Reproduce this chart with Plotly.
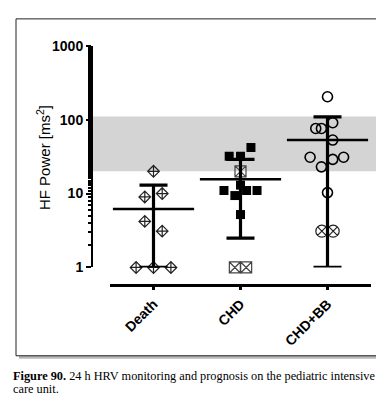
import plotly.graph_objects as go

# ---------------- data ----------------
categories = ["Death", "CHD", "CHD+BB"]

death_values = [20, 9, 10, 4.2, 3.1, 1, 1, 1]
death_jitter = [0, -0.1, 0.1, -0.1, 0.1, -0.2, 0, 0.2]

chd_values = [42, 32, 32, 13, 11, 11, 11, 9.4, 5.2]
chd_jitter = [0.12, -0.13, 0, 0, -0.19, 0.07, 0.19, -0.065, 0]
chd_x_values = [20, 1, 1]
chd_x_jitter = [0, -0.065, 0.065]

bb_values = [204, 76, 76, 91, 53, 31, 29, 31, 23, 10.3]
bb_jitter = [0, -0.135, -0.07, 0.06, 0.06, -0.2, 0.06, 0.185, -0.07, 0]
bb_x_values = [3.1, 3.1]
bb_x_jitter = [-0.065, 0.065]

means = [6.2, 15.6, 53]
upper = [13, 29, 109]
lower = [1, 2.5, 1]

band_low, band_high = 20, 110
y_tick_vals = [1, 10, 100, 1000]
y_tick_text = ["1", "10", "100", "1000"]

# ---------------- layout helpers ----------------
W, H = 384, 398
def px(x):
    return x / W
def py(y):
    return 1 - y / H

FONT = "Arial, Liberation Sans, sans-serif"
SERIF = "Liberation Serif, Times New Roman, serif"

fig = go.Figure()

def pts(group_idx, vals, jit, symbol, size, color, fill, lw):
    fig.add_trace(go.Scatter(
        x=[group_idx + j for j in jit], y=vals, mode="markers",
        marker=dict(symbol=symbol, size=size, color=fill,
                    line=dict(color=color, width=lw)),
        cliponaxis=False, showlegend=False, hoverinfo="y"))

pts(0, death_values, death_jitter, "diamond-cross-open", 9, "#222", "#222", 1.2)
pts(1, chd_values, chd_jitter, "square", 9, "black", "black", 0)
pts(1, chd_x_values, chd_x_jitter, "square-x-open", 11, "#444", "#444", 1.2)
pts(2, bb_values, bb_jitter, "circle-open", 10, "black", "black", 1.6)
pts(2, bb_x_values, bb_x_jitter, "circle-x-open", 12, "#222", "#222", 1.2)

# mean and SD
fig.add_trace(go.Scatter(
    x=[0, 1, 2], y=means, mode="markers",
    marker=dict(symbol="line-ew-open", size=58, color="black",
                line=dict(color="black", width=2.5)),
    error_y=dict(type="data", symmetric=False,
                 array=[u - m for u, m in zip(upper, means)],
                 arrayminus=[m - l for m, l in zip(means, lower)],
                 thickness=3.2, width=14, color="black"),
    cliponaxis=False, showlegend=False, hoverinfo="y"))

shapes = [
    dict(type="rect", xref="paper", yref="paper", x0=px(11), x1=px(382),
         y0=py(357), y1=py(6), fillcolor="#b8b8b8", line=dict(width=0), layer="below"),
    dict(type="rect", xref="paper", yref="paper", x0=px(8), x1=px(379),
         y0=py(354), y1=py(3), fillcolor="white", line=dict(color="#222", width=1), layer="below"),
    dict(type="rect", xref="paper", yref="y", x0=px(85), x1=px(369),
         y0=band_low, y1=band_high, fillcolor="#d4d4d4", line=dict(width=0), layer="below"),
]

annotations = [
    dict(text="HF Power [ms<sup>2</sup>]", textangle=-90, xref="paper", yref="paper",
         x=px(35), y=py(148), xanchor="center", yanchor="middle", showarrow=False,
         font=dict(family=FONT, size=15, color="black")),
    dict(text="<b>Figure 90.</b> 24 h HRV monitoring and prognosis on the pediatric intensive",
         xref="paper", yref="paper", x=px(3), y=py(375), xanchor="left", yanchor="middle",
         showarrow=False, font=dict(family=SERIF, size=12.3, color="black")),
    dict(text="care unit.",
         xref="paper", yref="paper", x=px(3), y=py(389), xanchor="left", yanchor="middle",
         showarrow=False, font=dict(family=SERIF, size=12.3, color="black")),
]

fig.update_layout(
    width=W, height=H,
    margin=dict(l=0, r=0, t=0, b=0),
    paper_bgcolor="white", plot_bgcolor="rgba(0,0,0,0)",
    shapes=shapes, annotations=annotations,
    xaxis=dict(domain=[px(102), px(363)], range=[-0.5, 2.5],
               anchor="free", position=py(280),
               tickvals=[0, 1, 2], ticktext=["<b>%s</b>" % c for c in categories], tickangle=-45,
               tickfont=dict(family=FONT, size=14, color="black"),
               showline=True, linecolor="black", linewidth=2.5,
               ticks="outside", ticklen=4, tickwidth=2.5, tickcolor="black",
               showgrid=False, zeroline=False),
    yaxis=dict(type="log", domain=[py(262), py(31)], range=[0, 3],
               anchor="free", position=px(84),
               tickvals=y_tick_vals, ticktext=["<b>%s</b>" % t for t in y_tick_text],
               tickfont=dict(family=FONT, size=14, color="black"),
               showline=True, linecolor="black", linewidth=2,
               ticks="outside", ticklen=5, tickwidth=2, tickcolor="black",
               minor=dict(ticks="outside", ticklen=3, tickwidth=1.5, tickcolor="black", showgrid=False),
               showgrid=False, zeroline=False),
)

fig.write_html("out.html")
